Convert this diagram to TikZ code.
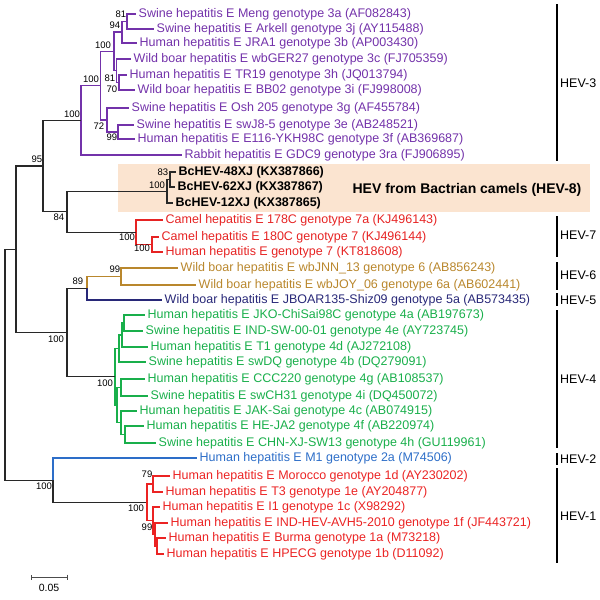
\documentclass[tikz,border=0pt]{standalone}
\usepackage{fontspec}
\setmainfont{Liberation Sans}
\usepackage{tikz}
\usetikzlibrary{arrows.meta}
\pgfdeclarelayer{boxlayer}
\pgfdeclarelayer{edgelayer}
\pgfdeclarelayer{nodelayer}
\pgfsetlayers{boxlayer,edgelayer,nodelayer,main}
\definecolor{trunk}{RGB}{40,40,40}
\definecolor{hevthree}{RGB}{115,50,170}
\definecolor{hevseven}{RGB}{230,35,35}
\definecolor{hevsix}{RGB}{185,135,45}
\definecolor{hevfive}{RGB}{40,40,120}
\definecolor{hevfour}{RGB}{25,175,75}
\definecolor{hevtwo}{RGB}{45,110,200}
\definecolor{hevone}{RGB}{235,35,35}
\definecolor{camelbg}{RGB}{251,228,208}
\tikzstyle{junction}=[coordinate]
\tikzstyle{leaf}=[anchor=west,inner xsep=2.5pt,inner ysep=0pt,font=\fontsize{12.5}{14}\selectfont]
\tikzstyle{camel_leaf}=[leaf,text=black,font=\fontsize{12.5}{14}\selectfont\bfseries]
\tikzstyle{hev3_leaf}=[leaf,text=hevthree]
\tikzstyle{hev7_leaf}=[leaf,text=hevseven]
\tikzstyle{hev6_leaf}=[leaf,text=hevsix]
\tikzstyle{hev5_leaf}=[leaf,text=hevfive]
\tikzstyle{hev4_leaf}=[leaf,text=hevfour]
\tikzstyle{hev2_leaf}=[leaf,text=hevtwo]
\tikzstyle{hev1_leaf}=[leaf,text=hevone]
\tikzstyle{boot}=[inner sep=0pt,font=\fontsize{9.5}{11}\selectfont]
\tikzstyle{branch}=[draw=trunk,line width=1.1pt]
\tikzstyle{hev3_branch}=[branch,draw=hevthree]
\tikzstyle{hev7_branch}=[branch,draw=hevseven]
\tikzstyle{hev6_branch}=[branch,draw=hevsix]
\tikzstyle{hev5_branch}=[branch,draw=hevfive]
\tikzstyle{hev4_branch}=[branch,draw=hevfour]
\tikzstyle{hev2_branch}=[branch,draw=hevtwo]
\tikzstyle{hev1_branch}=[branch,draw=hevone]
\tikzstyle{clade_bar}=[draw=black,line width=1.1pt]
\tikzstyle{clade}=[anchor=west,inner sep=1pt,font=\fontsize{12.5}{14}\selectfont]
\tikzstyle{scale_bar}=[draw=black!70,line width=1pt,{Bar[width=5pt]}-{Bar[width=5pt]}]

\begin{document}
\begin{tikzpicture}[x=1pt,y=-1pt]
	\useasboundingbox (0,0) rectangle (600,600);
	\begin{pgfonlayer}{boxlayer}
		\fill [camelbg] (118,164) rectangle (590,212);
	\end{pgfonlayer}
	\begin{pgfonlayer}{nodelayer}
		\node [style=hev3_leaf] (0) at (136,14) {Swine hepatitis E Meng genotype 3a (AF082843)};
		\node [style=hev3_leaf] (1) at (154,29) {Swine hepatitis E Arkell genotype 3j (AY115488)};
		\node [style=hev3_leaf] (2) at (137,43) {Human hepatitis E JRA1 genotype 3b (AP003430)};
		\node [style=hev3_leaf] (3) at (131,59) {Wild boar hepatitis E wbGER27 genotype 3c (FJ705359)};
		\node [style=hev3_leaf] (4) at (127,75) {Human hepatitis E TR19 genotype 3h (JQ013794)};
		\node [style=hev3_leaf] (5) at (135,90) {Wild boar hepatitis E BB02 genotype 3i (FJ998008)};
		\node [style=hev3_leaf] (6) at (129,108) {Swine hepatitis E Osh 205 genotype 3g (AF455784)};
		\node [style=hev3_leaf] (7) at (134,125) {Swine hepatitis E swJ8-5 genotype 3e (AB248521)};
		\node [style=hev3_leaf] (8) at (135,139) {Human hepatitis E E116-YKH98C genotype 3f (AB369687)};
		\node [style=hev3_leaf] (9) at (182,155) {Rabbit hepatitis E GDC9 genotype 3ra (FJ906895)};
		\node [style=camel_leaf] (10) at (176,172) {BcHEV-48XJ (KX387866)};
		\node [style=camel_leaf] (11) at (175,187) {BcHEV-62XJ (KX387867)};
		\node [style=camel_leaf] (12) at (173,203) {BcHEV-12XJ (KX387865)};
		\node [style=hev7_leaf] (13) at (163,220) {Camel hepatitis E 178C genotype 7a (KJ496143)};
		\node [style=hev7_leaf] (14) at (159,237) {Camel hepatitis E 180C genotype 7 (KJ496144)};
		\node [style=hev7_leaf] (15) at (163,252) {Human hepatitis E genotype 7 (KT818608)};
		\node [style=hev6_leaf] (16) at (178,268) {Wild boar hepatitis E wbJNN\_13 genotype 6 (AB856243)};
		\node [style=hev6_leaf] (17) at (196,285) {Wild boar hepatitis E wbJOY\_06 genotype 6a (AB602441)};
		\node [style=hev5_leaf] (18) at (162,300) {Wild boar hepatitis E JBOAR135-Shiz09 genotype 5a (AB573435)};
		\node [style=hev4_leaf] (19) at (145,315) {Human hepatitis E JKO-ChiSai98C genotype 4a (AB197673)};
		\node [style=hev4_leaf] (20) at (143,331) {Swine hepatitis E IND-SW-00-01 genotype 4e (AY723745)};
		\node [style=hev4_leaf] (21) at (148,347) {Human hepatitis E T1 genotype 4d (AJ272108)};
		\node [style=hev4_leaf] (22) at (146,362) {Swine hepatitis E swDQ genotype 4b (DQ279091)};
		\node [style=hev4_leaf] (23) at (145,379) {Human hepatitis E CCC220 genotype 4g (AB108537)};
		\node [style=hev4_leaf] (24) at (148,396) {Swine hepatitis E swCH31 genotype 4i (DQ450072)};
		\node [style=hev4_leaf] (25) at (137,411) {Human hepatitis E JAK-Sai genotype 4c (AB074915)};
		\node [style=hev4_leaf] (26) at (144,426) {Human hepatitis E HE-JA2 genotype 4f (AB220974)};
		\node [style=hev4_leaf] (27) at (156,443) {Swine hepatitis E CHN-XJ-SW13 genotype 4h (GU119961)};
		\node [style=hev2_leaf] (28) at (197,458) {Human hepatitis E M1 genotype 2a (M74506)};
		\node [style=hev1_leaf] (29) at (170,476) {Human hepatitis E Morocco genotype 1d (AY230202)};
		\node [style=hev1_leaf] (30) at (163,492) {Human hepatitis E T3 genotype 1e (AY204877)};
		\node [style=hev1_leaf] (31) at (160,507) {Human hepatitis E I1 genotype 1c (X98292)};
		\node [style=hev1_leaf] (32) at (168,523) {Human hepatitis E IND-HEV-AVH5-2010 genotype 1f (JF443721)};
		\node [style=hev1_leaf] (33) at (166,538) {Human hepatitis E Burma genotype 1a (M73218)};
		\node [style=hev1_leaf] (34) at (164,554) {Human hepatitis E HPECG genotype 1b (D11092)};
		\node [style=junction] (35) at (127,21.5) {};
		\node [style=junction] (36) at (122,32) {};
		\node [style=junction] (37) at (119,82.5) {};
		\node [style=junction] (38) at (116.5,70.8) {};
		\node [style=junction] (39) at (114,51.4) {};
		\node [style=junction] (40) at (118,132) {};
		\node [style=junction] (41) at (107,120) {};
		\node [style=junction] (42) at (100.5,85.7) {};
		\node [style=junction] (43) at (81,120.4) {};
		\node [style=junction] (44) at (170,179.5) {};
		\node [style=junction] (45) at (167,191.2) {};
		\node [style=junction] (46) at (152,244.5) {};
		\node [style=junction] (47) at (136,232.2) {};
		\node [style=junction] (48) at (67,211.7) {};
		\node [style=junction] (49) at (43,166) {};
		\node [style=junction] (50) at (121,276.5) {};
		\node [style=junction] (51) at (87,288.2) {};
		\node [style=junction] (52) at (124,323) {};
		\node [style=junction] (53) at (122,335) {};
		\node [style=junction] (54) at (119,348.5) {};
		\node [style=junction] (55) at (121,387.5) {};
		\node [style=junction] (56) at (125,434.5) {};
		\node [style=junction] (57) at (121,422.7) {};
		\node [style=junction] (58) at (117,405.1) {};
		\node [style=junction] (59) at (115,376.8) {};
		\node [style=junction] (60) at (67,332.5) {};
		\node [style=junction] (61) at (16,249.3) {};
		\node [style=junction] (62) at (153,484) {};
		\node [style=junction] (63) at (157,546) {};
		\node [style=junction] (64) at (155,534.5) {};
		\node [style=junction] (65) at (153,520.7) {};
		\node [style=junction] (66) at (147,502.4) {};
		\node [style=junction] (67) at (53,480.2) {};
		\node [style=junction] (68) at (5,364.7) {};
		\node [style=boot] (69) at (121,14) {81};
		\node [style=boot] (70) at (115,25) {94};
		\node [style=boot] (71) at (103,45) {100};
		\node [style=boot] (72) at (91,79) {100};
		\node [style=boot] (73) at (110,78) {81};
		\node [style=boot] (74) at (112,89) {70};
		\node [style=boot] (75) at (72,114) {100};
		\node [style=boot] (76) at (99,126) {72};
		\node [style=boot] (77) at (112,137) {99};
		\node [style=boot] (78) at (37,159) {95};
		\node [style=boot] (79) at (163,172) {83};
		\node [style=boot] (80) at (157,185) {100};
		\node [style=boot] (81) at (59,217) {84};
		\node [style=boot] (82) at (127,237) {100};
		\node [style=boot] (83) at (142,248) {100};
		\node [style=boot] (84) at (115,269) {99};
		\node [style=boot] (85) at (78,281) {89};
		\node [style=boot] (86) at (56,339) {100};
		\node [style=boot] (87) at (105,383) {100};
		\node [style=boot] (88) at (44,486) {100};
		\node [style=boot] (89) at (147,474) {79};
		\node [style=boot] (90) at (136,508) {100};
		\node [style=boot] (91) at (147,527) {99};
		\node [font=\fontsize{14}{16}\selectfont\bfseries] (92) at (467,190) {HEV from Bactrian camels (HEV-8)};
		\node [style=junction] (93) at (557,4) {};
		\node [style=junction] (94) at (557,161) {};
		\node [style=clade] (95) at (559,83) {HEV-3};
		\node [style=junction] (96) at (557,216) {};
		\node [style=junction] (97) at (557,257) {};
		\node [style=clade] (98) at (559,235) {HEV-7};
		\node [style=junction] (99) at (557,262) {};
		\node [style=junction] (100) at (557,290) {};
		\node [style=clade] (101) at (559,275) {HEV-6};
		\node [style=junction] (102) at (557,293) {};
		\node [style=junction] (103) at (557,306) {};
		\node [style=clade] (104) at (559,300) {HEV-5};
		\node [style=junction] (105) at (557,310) {};
		\node [style=junction] (106) at (557,448) {};
		\node [style=clade] (107) at (559,379) {HEV-4};
		\node [style=junction] (108) at (557,453) {};
		\node [style=junction] (109) at (557,465) {};
		\node [style=clade] (110) at (559,459) {HEV-2};
		\node [style=junction] (111) at (557,468) {};
		\node [style=junction] (112) at (557,563) {};
		\node [style=clade] (113) at (559,516) {HEV-1};
		\node [style=junction] (114) at (31,577) {};
		\node [style=junction] (115) at (68,577) {};
		\node [font=\fontsize{10.5}{12}\selectfont] (116) at (49,588) {0.05};
	\end{pgfonlayer}
	\begin{pgfonlayer}{edgelayer}
		\draw [style=hev3_branch] (35) |- (0);
		\draw [style=hev3_branch] (35) |- (1);
		\draw [style=hev3_branch] (36) |- (35);
		\draw [style=hev3_branch] (36) |- (2);
		\draw [style=hev3_branch] (37) |- (4);
		\draw [style=hev3_branch] (37) |- (5);
		\draw [style=hev3_branch] (38) |- (3);
		\draw [style=hev3_branch] (38) |- (37);
		\draw [style=hev3_branch] (39) |- (36);
		\draw [style=hev3_branch] (39) |- (38);
		\draw [style=hev3_branch] (40) |- (7);
		\draw [style=hev3_branch] (40) |- (8);
		\draw [style=hev3_branch] (41) |- (6);
		\draw [style=hev3_branch] (41) |- (40);
		\draw [style=hev3_branch] (42) |- (39);
		\draw [style=hev3_branch] (42) |- (41);
		\draw [style=hev3_branch] (43) |- (42);
		\draw [style=hev3_branch] (43) |- (9);
		\draw [style=branch] (49) |- (43);
		\draw [style=branch] (44) |- (10);
		\draw [style=branch] (44) |- (11);
		\draw [style=branch] (45) |- (44);
		\draw [style=branch] (45) |- (12);
		\draw [style=branch] (48) |- (45);
		\draw [style=hev7_branch] (46) |- (14);
		\draw [style=hev7_branch] (46) |- (15);
		\draw [style=hev7_branch] (47) |- (13);
		\draw [style=hev7_branch] (47) |- (46);
		\draw [style=branch] (48) |- (47);
		\draw [style=branch] (49) |- (48);
		\draw [style=branch] (61) |- (49);
		\draw [style=hev6_branch] (50) |- (16);
		\draw [style=hev6_branch] (50) |- (17);
		\draw [style=hev6_branch] (51) |- (50);
		\draw [style=hev5_branch] (51) |- (18);
		\draw [style=branch] (60) |- (51);
		\draw [style=hev4_branch] (52) |- (19);
		\draw [style=hev4_branch] (52) |- (20);
		\draw [style=hev4_branch] (53) |- (52);
		\draw [style=hev4_branch] (53) |- (21);
		\draw [style=hev4_branch] (54) |- (53);
		\draw [style=hev4_branch] (54) |- (22);
		\draw [style=hev4_branch] (55) |- (23);
		\draw [style=hev4_branch] (55) |- (24);
		\draw [style=hev4_branch] (56) |- (26);
		\draw [style=hev4_branch] (56) |- (27);
		\draw [style=hev4_branch] (57) |- (25);
		\draw [style=hev4_branch] (57) |- (56);
		\draw [style=hev4_branch] (58) |- (55);
		\draw [style=hev4_branch] (58) |- (57);
		\draw [style=hev4_branch] (59) |- (54);
		\draw [style=hev4_branch] (59) |- (58);
		\draw [style=branch] (60) |- (59);
		\draw [style=branch] (61) |- (60);
		\draw [style=branch] (68) |- (61);
		\draw [style=branch] (68) |- (67);
		\draw [style=hev2_branch] (67) |- (28);
		\draw [style=branch] (67) |- (66);
		\draw [style=hev1_branch] (62) |- (29);
		\draw [style=hev1_branch] (62) |- (30);
		\draw [style=hev1_branch] (63) |- (33);
		\draw [style=hev1_branch] (63) |- (34);
		\draw [style=hev1_branch] (64) |- (32);
		\draw [style=hev1_branch] (64) |- (63);
		\draw [style=hev1_branch] (65) |- (31);
		\draw [style=hev1_branch] (65) |- (64);
		\draw [style=hev1_branch] (66) |- (62);
		\draw [style=hev1_branch] (66) |- (65);
		\draw [style=clade_bar] (93) -- (94);
		\draw [style=clade_bar] (96) -- (97);
		\draw [style=clade_bar] (99) -- (100);
		\draw [style=clade_bar] (102) -- (103);
		\draw [style=clade_bar] (105) -- (106);
		\draw [style=clade_bar] (108) -- (109);
		\draw [style=clade_bar] (111) -- (112);
		\draw [style=scale_bar] (114) -- (115);
	\end{pgfonlayer}
\end{tikzpicture}
\end{document}
